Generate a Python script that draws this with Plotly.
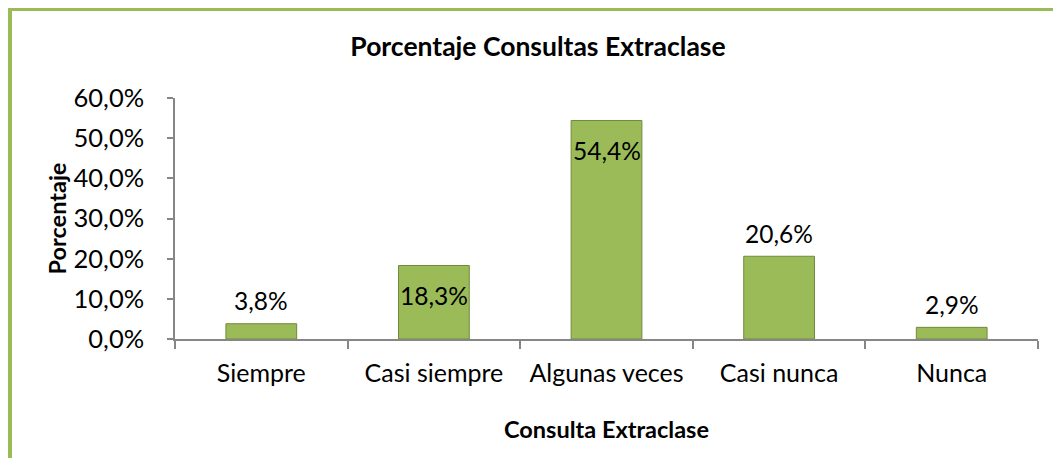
import plotly.graph_objects as go

categories = ["Siempre", "Casi siempre", "Algunas veces", "Casi nunca", "Nunca"]
values = [3.8, 18.3, 54.4, 20.6, 2.9]
label_inside = [False, True, True, False, False]
y_ticks = [0, 10, 20, 30, 40, 50, 60]

# the page body has an 8px margin: positions below are in reference pixels
OFF = 8
W, H = 1061 - OFF, 458 - OFF
left, right, top, bottom = 175, 1038, 98, 339
ml, mt = left - OFF, top - OFF
mr = W - (right - OFF)
mb = H - (bottom - OFF)
pw, ph = W - ml - mr, H - mt - mb

def px_x(x):
    return (x - OFF - ml) / pw

def px_y(y):
    return 1 - (y - OFF - mt) / ph

FONT = "Lato"
axis_col = "#868686"

def fmt(v):
    return f"{v:.1f}%".replace(".", ",")

fig = go.Figure(go.Bar(
    x=categories, y=values,
    marker=dict(color="#9BBB59", line=dict(color="#71893F", width=1)),
    width=0.41,
    hoverinfo="x+y",
))

for c, v, inside in zip(categories, values, label_inside):
    fig.add_annotation(x=c, y=v, xref="x", yref="y", text=fmt(v), showarrow=False,
                       yanchor="middle", yshift=(-30 if inside else 23),
                       font=dict(family=FONT, size=24.5, color="#000000"))

fig.update_layout(
    width=W, height=H,
    margin=dict(l=ml, r=mr, t=mt, b=mb),
    paper_bgcolor="white", plot_bgcolor="white",
    showlegend=False,
    title=dict(text="<b>Porcentaje Consultas Extraclase</b>", x=(538 - OFF) / W, xanchor="center",
               y=1 - (47 - OFF) / H, yanchor="middle",
               font=dict(family=FONT, size=26.5, color="#000000")),
    shapes=[
        dict(type="line", xref="paper", yref="paper", x0=px_x(10), x1=px_x(10),
             y0=px_y(8), y1=px_y(470), line=dict(color="#9BBB59", width=4)),
        dict(type="line", xref="paper", yref="paper", x0=px_x(8), x1=px_x(1070),
             y0=px_y(9.5), y1=px_y(9.5), line=dict(color="#9BBB59", width=3)),
    ],
)

fig.update_xaxes(
    showline=True, linecolor=axis_col, linewidth=1.5,
    ticks="outside", tickson="boundaries", ticklen=8, tickcolor=axis_col, tickwidth=1.5,
    showgrid=False,
    tickfont=dict(family=FONT, size=25, color="#000000"),
    ticklabelstandoff=11,
    title=dict(text="<b>Consulta Extraclase</b>", standoff=36,
               font=dict(family=FONT, size=23.5, color="#000000")),
)

fig.update_yaxes(
    range=[0, 60], tickvals=y_ticks, ticktext=[fmt(v) for v in y_ticks],
    showline=True, linecolor=axis_col, linewidth=1.5,
    ticks="outside", ticklen=6, tickcolor=axis_col, tickwidth=1.5,
    showgrid=False, zeroline=False,
    tickfont=dict(family=FONT, size=25.5, color="#000000"),
    ticklabelstandoff=18,
    title=dict(text="<b>Porcentaje</b>", standoff=0,
               font=dict(family=FONT, size=23.5, color="#000000")),
)

fig.write_html("out.html")
